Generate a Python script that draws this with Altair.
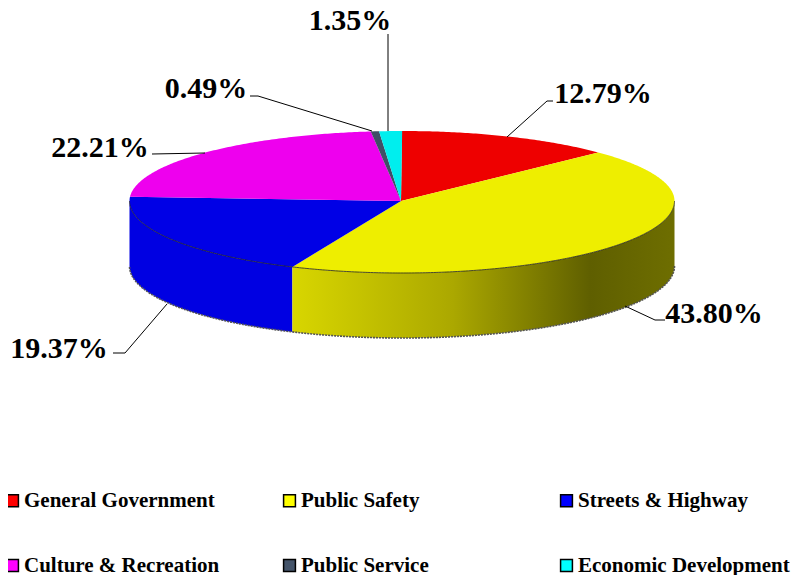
import altair as alt
import numpy as np

categories = ["General Government", "Public Safety", "Streets & Highway",
              "Culture & Recreation", "Public Service", "Economic Development"]
values = [12.79, 43.80, 19.37, 22.21, 0.49, 1.35]
pct_labels = ["12.79%", "43.80%", "19.37%", "22.21%", "0.49%", "1.35%"]
face_colors = ["#EE0000", "#EEEE00", "#0000E6", "#EE00EE", "#3F4F66", "#00EEEE"]
legend_colors = ["#FF0000", "#FFFF00", "#0000FF", "#FF00FF", "#44546A", "#00FFFF"]
legend_order = [0, 3, 1, 4, 2, 5]  # the legend fills column by column
wall_blue = "#0000E2"

# layout (page pixels)
CX, CY, RX, RY_TOP, RY_BOT, DEPTH = 402.0, 201.0, 272.5, 70.0, 72.0, 65.0
W, H = 784, 567
label_at = [(603, 94), (714, 314), (59, 349), (100, 148), (206, 89), (350, 21)]
leaders = [
    [(507, 137), (547, 101), (553, 101)],
    [(625, 306), (655, 320), (665, 320)],
    [(167, 304), (125, 353), (113, 353)],
    [(205, 153), (152, 154)],
    [(372, 131), (258, 96), (250, 96)],
    [(388, 131), (388, 34)],
]


def geo(px, py):
    return [(px - 8 - (CX - 8)) / RX, -(py - 8 - (CY - 8)) / RX]


def rim(a, drop=0.0):
    c = np.cos(a)
    ry = RY_TOP if c > 0 else RY_BOT
    return geo(CX + RX * np.sin(a), CY - ry * c + drop)


def arc(a0, a1, drop=0.0):
    n = max(int(abs(a1 - a0) / 0.01), 2)
    return [rim(a, drop) for a in np.linspace(a0, a1, n)]


def feature(points, **props):
    return {"type": "Feature", "properties": props,
            "geometry": {"type": "Polygon", "coordinates": [points + [points[0]]]}}


PROJ = dict(type="identity", reflectY=True, scale=RX, translate=[CX - 8, CY - 8])
edges = np.cumsum([0] + values) / 100 * 2 * np.pi
hub = geo(401, 201)

faces = [feature([hub] + arc(edges[i], edges[i + 1]), fill=face_colors[i])
         for i in range(len(values))]

# visible walls: yellow from the right extreme to its end, blue from there to the left extreme
y0, y1 = np.pi / 2, edges[2]
yellow_wall = [feature(arc(y0, y1) + arc(y1, y0, DEPTH))]
b0, b1 = edges[2], 1.5 * np.pi
blue_wall = [feature(arc(b0, b1) + arc(b1, b0, DEPTH), fill=wall_blue)]


def line_rows(points, group):
    return [{"lon": p[0], "lat": p[1], "g": group, "o": i} for i, p in enumerate(points)]


leader_rows = []
front_top = line_rows(arc(np.pi / 2, 1.5 * np.pi), "t")
front_bot = line_rows(arc(np.pi / 2, 1.5 * np.pi, DEPTH), "b")
for k, seg in enumerate(leaders):
    leader_rows += line_rows([geo(*p) for p in seg], k)

label_rows = [dict(zip(("lon", "lat"), geo(*p)), text=t) for p, t in zip(label_at, pct_labels)]

legend_layer = (
    alt.Chart(alt.Data(values=[{"cat": c} for c in categories]))
    .mark_square(size=1, opacity=0)
    .encode(color=alt.Color(
        "cat:N",
        scale=alt.Scale(domain=[categories[i] for i in legend_order],
                        range=[legend_colors[i] for i in legend_order]),
        legend=alt.Legend(
            title=None, orient="none", legendX=-6, legendY=482, columns=3,
            gridAlign="all", columnPadding=43, rowPadding=43,
            symbolType="square", symbolSize=140, symbolOpacity=1,
            symbolStrokeColor="#000000", symbolStrokeWidth=1.5,
            labelFont="Liberation Serif", labelFontWeight="bold", labelFontSize=21,
            labelColor="#000000", labelLimit=300, labelOffset=1,
        ),
    ))
)

wall_yellow = (
    alt.Chart(alt.Data(values=yellow_wall)).mark_geoshape(
        strokeWidth=0,
        fill=alt.Gradient(
            gradient="linear", x1=0, x2=1, y1=0, y2=0,
            stops=[
                alt.GradientStop(color="#D8D600", offset=0),
                alt.GradientStop(color="#ABA800", offset=0.42),
                alt.GradientStop(color="#5F5F00", offset=0.78),
                alt.GradientStop(color="#6E6E00", offset=1),
            ],
        ),
    ).project(**PROJ)
)
wall_b = (
    alt.Chart(alt.Data(values=blue_wall))
    .mark_geoshape(strokeWidth=0)
    .encode(color=alt.Color("properties.fill:N", scale=None))
    .project(**PROJ)
)
top = (
    alt.Chart(alt.Data(values=faces))
    .mark_geoshape(strokeWidth=0)
    .encode(color=alt.Color("properties.fill:N", scale=None))
    .project(**PROJ)
)


def path_layer(rows, **kw):
    return (
        alt.Chart(alt.Data(values=rows))
        .mark_line(**kw)
        .encode(longitude="lon:Q", latitude="lat:Q", detail="g:N", order="o:Q")
        .project(**PROJ)
    )


rim_top = path_layer(front_top, color="#222222", strokeWidth=0.8)
rim_bot = path_layer(front_bot, color="#555555", strokeWidth=1.6, strokeDash=[2, 1])
lead = path_layer(leader_rows, color="#000000", strokeWidth=1)

text = (
    alt.Chart(alt.Data(values=label_rows))
    .mark_text(font="Liberation Serif", fontWeight="bold", fontSize=30, color="#000000",
               align="center", baseline="middle")
    .encode(longitude="lon:Q", latitude="lat:Q", text="text:N")
    .project(**PROJ)
)

chart = (
    alt.layer(legend_layer, wall_b, wall_yellow, rim_bot, top, rim_top, lead, text)
    .properties(width=W, height=H, padding=0, autosize=alt.AutoSizeParams(type="none"))
    .configure_view(stroke=None)
)
chart.save("out.html", embed_options={"renderer": "svg", "actions": False})
